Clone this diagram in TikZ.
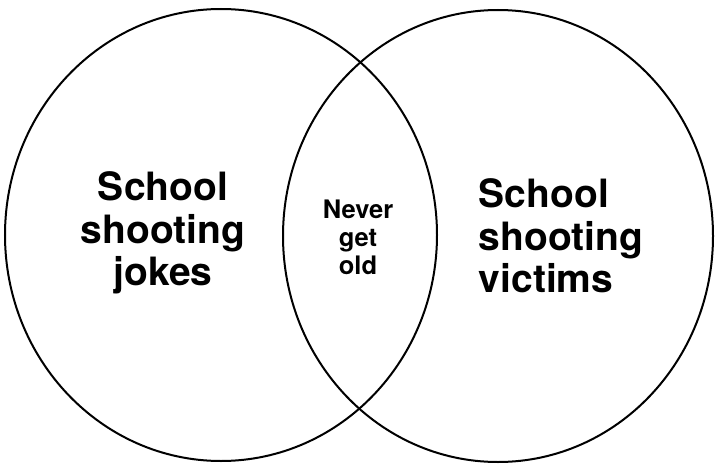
\documentclass[tikz,border=0pt]{standalone}
\usepackage{fontspec}
\setmainfont{TeX Gyre Heros}
\usetikzlibrary{positioning}

\begin{document}
\begin{tikzpicture}[x=1pt,y=-1pt,
  setring/.style={draw=black,line width=2pt},
  biglbl/.style={align=center,inner sep=0pt,font=\fontsize{39}{42.5}\selectfont\bfseries},
  midlbl/.style={align=center,inner sep=0pt,font=\fontsize{25.5}{28}\selectfont\bfseries},
]
  \useasboundingbox[fill=white] (0,0) rectangle (720,468);
  % the two sets
  \draw[setring] (221,235) ellipse [x radius=216, y radius=226];
  \draw[setring] (498,236) ellipse [x radius=215, y radius=226];
  % labels
  \node[biglbl] (jokes)   at (163,233) {School\\shooting\\jokes};
  \node[biglbl,align=left] (victims) at (561,236) {School\\shooting\\victims};
  \node[midlbl] (overlap) at (358,237) {Never\\get\\old};
\end{tikzpicture}
\end{document}
